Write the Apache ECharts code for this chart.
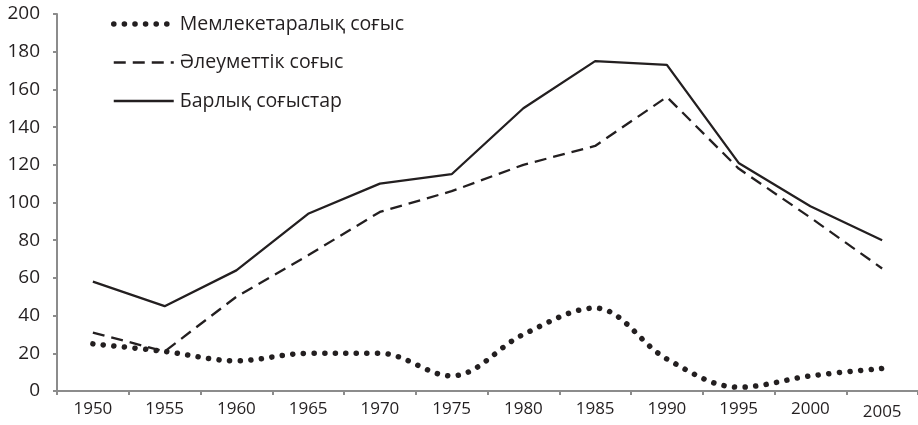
<!DOCTYPE html>
<html><head><meta charset="utf-8">
<script src="https://cdn.jsdelivr.net/npm/echarts@6/dist/echarts.min.js"></script>
<style>html,body{margin:0;padding:0;background:#fff}#c{width:918px;height:425px}</style>
</head><body><div id="c"></div>
<script>
var years = ['1950','1955','1960','1965','1970','1975','1980','1985','1990','1995','2000','2005'];
var interstate = [25,21,16,20,20,8,30,44,17,2,8,12];
var social = [31,21,50,72,95,106,120,130,156,118,92,65];
var total = [58,45,64,94,110,115,150,175,173,121,98,80];
var names = ['Мемлекетаралық соғыс','Әлеуметтік соғыс','Барлық соғыстар'];
var yTicks = [0,20,40,60,80,100,120,140,160,180,200];

var ink = '#231f20';
var font = '"Open Sans", sans-serif';
var dotStyle = {color:ink,width:5.5,type:[0.1,10.5],cap:'round'};
var dashStyle = {color:ink,width:2.3,type:[12,7]};
var solidStyle = {color:ink,width:2.3,type:'solid'};
var chart = echarts.init(document.getElementById('c'));
chart.setOption({
  animation:false,
  grid:{left:57,right:0,top:14,bottom:34},
  legend:{
    orient:'vertical', left:106, top:8, itemWidth:60, itemHeight:22, itemGap:16.5,
    itemStyle:{opacity:0},
    textStyle:{fontFamily:font,fontSize:19.5,lineHeight:22,color:ink,padding:[0,0,0,1]},
    data:[
      {name:names[0],lineStyle:dotStyle,itemStyle:{opacity:0}},
      {name:names[1],lineStyle:dashStyle,itemStyle:{opacity:0}},
      {name:names[2],lineStyle:solidStyle,itemStyle:{opacity:0}}
    ]
  },
  xAxis:{
    type:'category', boundaryGap:true,
    data:years.map(function(y,i){return i===years.length-1?{value:y,textStyle:{padding:[3,0,0,0]}}:y;}),
    axisLine:{lineStyle:{color:'#8c8c8c',width:2}},
    axisTick:{show:true,length:4,lineStyle:{color:'#8c8c8c',width:2}},
    axisLabel:{fontFamily:font,fontSize:17,color:ink,margin:10}
  },
  yAxis:{
    type:'value', min:yTicks[0], max:yTicks[yTicks.length-1], interval:20,
    axisLine:{show:true,lineStyle:{color:'#8c8c8c',width:2}},
    axisTick:{show:true,length:4,lineStyle:{color:'#8c8c8c',width:2}},
    splitLine:{show:false},
    axisLabel:{fontFamily:font,fontSize:19,color:ink,margin:17}
  },
  series:[
    {name:names[0],type:'line',data:interstate,smooth:0.35,symbol:'none',
     lineStyle:dotStyle,itemStyle:{color:ink}},
    {name:names[1],type:'line',data:social,symbol:'none',
     lineStyle:dashStyle,itemStyle:{color:ink}},
    {name:names[2],type:'line',data:total,symbol:'none',
     lineStyle:solidStyle,itemStyle:{color:ink}}
  ]
});
</script></body></html>
